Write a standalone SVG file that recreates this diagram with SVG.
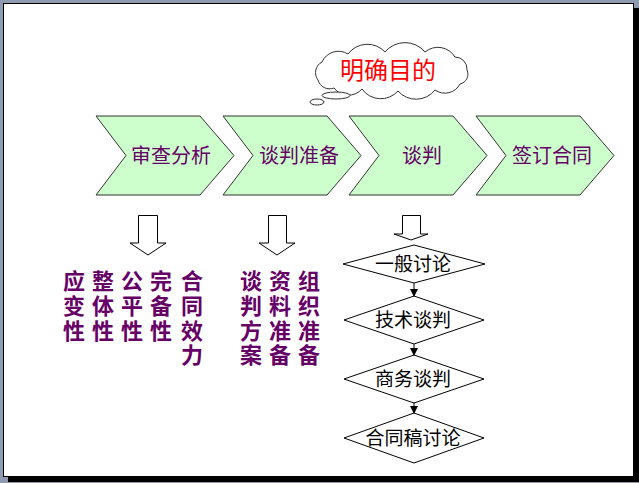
<svg xmlns="http://www.w3.org/2000/svg" width="639" height="483" viewBox="0 0 639 483">
<defs>
<style>
.chev{fill:#ccffcc;stroke:#333333;stroke-width:1}
.ctext{font-family:"Noto Sans CJK SC","Liberation Sans",sans-serif;font-size:20px;fill:#660066;text-anchor:middle}
.vtext{font-family:"Noto Sans CJK SC","Liberation Sans",sans-serif;font-size:22px;font-weight:bold;fill:#660066;writing-mode:vertical-rl;letter-spacing:2.7px}
.dtext{font-family:"Noto Sans CJK SC","Liberation Sans",sans-serif;font-size:19px;fill:#000000;text-anchor:middle}
.dia{fill:#ffffff;stroke:#000000;stroke-width:1}
.barrow{fill:#ffffff;stroke:#000000;stroke-width:1}
.conn{stroke:#000000;stroke-width:1;fill:none}
</style>
<marker id="ah" markerWidth="8" markerHeight="8" refX="7" refY="4" orient="auto" markerUnits="userSpaceOnUse">
<path d="M0,0 L8,4 L0,8 z" fill="#000000"/>
</marker>
</defs>
<rect x="0" y="0" width="639" height="483" fill="#8f9ab3"/>
<rect x="8" y="8" width="631" height="474" fill="#000000"/>
<rect x="3.5" y="3.5" width="630" height="473" fill="#ffffff" stroke="#000000" stroke-width="1"/>

<g id="cloud">
<path d="M318,80 A12,12 0 0 1 322,62 A18,18 0 0 1 348,54 A24,24 0 0 1 385,52 A26,26 0 0 1 425,52 A20,20 0 0 1 455,57 A12,12 0 0 1 467,70 A10,10 0 0 1 460,84 A17,17 0 0 1 435,90 A24,24 0 0 1 398,91 A23,23 0 0 1 362,89 A18,18 0 0 1 334,88 A12,12 0 0 1 318,80 z" fill="#ffffff" stroke="#333333" stroke-width="1"/>
<ellipse cx="336" cy="95.5" rx="14" ry="3.5" fill="#ffffff" stroke="#333333" stroke-width="1"/>
<ellipse cx="317" cy="102" rx="7" ry="3" fill="#ffffff" stroke="#333333" stroke-width="1"/>
<text x="388" y="79" font-family="Noto Sans CJK SC, Liberation Sans, sans-serif" font-size="24" fill="#ff0000" text-anchor="middle">明确目的</text>
</g>

<g id="step1">
<polygon class="chev" points="96,116 200,116 234,155.5 200,195 96,195 126,155.5"/>
<text class="ctext" x="171" y="163">审查分析</text>
</g>
<g id="step2">
<polygon class="chev" points="223,116 327,116 361,155.5 327,195 223,195 253,155.5"/>
<text class="ctext" x="299" y="163">谈判准备</text>
</g>
<g id="step3">
<polygon class="chev" points="349,116 453,116 487,155.5 453,195 349,195 379,155.5"/>
<text class="ctext" x="422" y="163">谈判</text>
</g>
<g id="step4">
<polygon class="chev" points="476,116 580,116 614,155.5 580,195 476,195 506,155.5"/>
<text class="ctext" x="552" y="163">签订合同</text>
</g>

<g id="arrow1">
<polygon class="barrow" points="138.5,215.5 157.5,215.5 157.5,243 166,243 148,255 130,243 138.5,243"/>
</g>
<g id="arrow2">
<polygon class="barrow" points="268.5,215.5 286.5,215.5 286.5,243 295,243 277,255 259,243 268.5,243"/>
</g>
<g id="arrow3">
<polygon class="barrow" points="402.5,215.5 420.5,215.5 420.5,234 428,234 411,240 394,234 402.5,234"/>
</g>

<g id="review-items">
<text class="vtext" x="74" y="270">应变性</text>
<text class="vtext" x="103" y="270">整体性</text>
<text class="vtext" x="132" y="270">公平性</text>
<text class="vtext" x="161" y="270">完备性</text>
<text class="vtext" x="192" y="270">合同效力</text>
</g>
<g id="prep-items">
<text class="vtext" x="251" y="270">谈判方案</text>
<text class="vtext" x="280" y="270">资料准备</text>
<text class="vtext" x="309" y="270">组织准备</text>
</g>

<g id="d1">
<polygon class="dia" points="414,245 485,264 414,283 343,264"/>
<text class="dtext" x="413" y="271">一般讨论</text>
</g>
<g id="d2">
<polygon class="dia" points="414,296 484,320 414,344 344,320"/>
<text class="dtext" x="413" y="327">技术谈判</text>
</g>
<g id="d3">
<polygon class="dia" points="414,355 484,379 414,403 344,379"/>
<text class="dtext" x="413" y="386">商务谈判</text>
</g>
<g id="d4">
<polygon class="dia" points="414,413 484,438 414,463 344,438"/>
<text class="dtext" x="413" y="445">合同稿讨论</text>
</g>

<g id="connectors">
<line class="conn" x1="414" y1="283" x2="414" y2="296" marker-end="url(#ah)"/>
<line class="conn" x1="414" y1="344" x2="414" y2="355" marker-end="url(#ah)"/>
<line class="conn" x1="414" y1="403" x2="414" y2="413" marker-end="url(#ah)"/>
</g>
</svg>
